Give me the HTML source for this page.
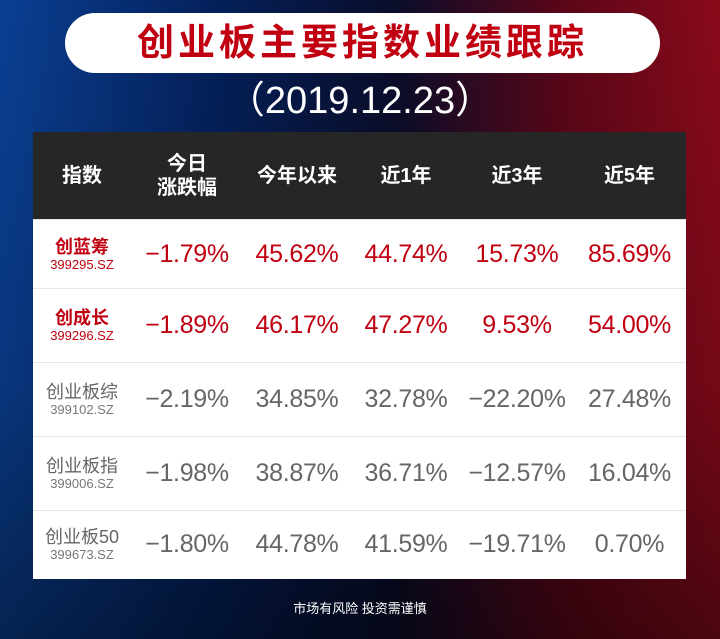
<!DOCTYPE html>
<html><head><meta charset="utf-8"><style>
body{margin:0;width:720px;height:639px;overflow:hidden;font-family:"Liberation Sans","Noto Sans CJK SC",sans-serif;}
#bg{position:absolute;left:0;top:0;width:720px;height:639px;background:linear-gradient(90deg,#0a3f93 0%,#04205a 30%,#0a0d2a 55%,#5a0618 78%,#8a0a1a 100%);}
#shade{position:absolute;left:0;top:0;width:720px;height:639px;background:linear-gradient(180deg,rgba(0,0,0,0) 0%,rgba(0,0,0,0.15) 60%,rgba(0,0,0,0.45) 100%);}
#pill{position:absolute;left:65px;top:13px;width:595px;height:60px;background:#fff;border-radius:30px;text-align:center;line-height:60px;color:#c00010;font-size:37px;font-weight:bold;letter-spacing:4px;}
#date{position:absolute;left:0;width:720px;top:78px;text-align:center;color:#fff;font-size:38px;line-height:46px;}
#tbl{position:absolute;left:33px;top:132px;width:653px;border-collapse:collapse;}
th{background:#262626;color:#fff;font-size:20px;font-weight:bold;height:87px;padding:0;line-height:24px;}
td{background:#fff;text-align:center;padding:0;font-size:25px;color:#666;border-top:1px solid #e6e6e6;letter-spacing:-0.3px;}
td.n{font-size:18px;line-height:20px;letter-spacing:0;}
td.n small{display:block;font-size:13px;line-height:15px;color:#777;}
tr.hot td{color:#c00010;}
tr.hot td.n{font-weight:bold;}
tr.hot td.n small{color:#c00010;font-weight:normal;}
#foot{position:absolute;left:0;width:720px;top:598px;text-align:center;color:#fff;font-size:13px;}
</style></head><body>
<div id="bg"></div>
<div id="shade"></div>
<div id="pill">创业板主要指数业绩跟踪</div>
<div id="date">（2019.12.23）</div>
<table id="tbl">
<colgroup><col style="width:98px"><col style="width:112px"><col style="width:108px"><col style="width:110px"><col style="width:112px"><col style="width:113px"></colgroup>
<tr><th>指数</th><th>今日<br>涨跌幅</th><th>今年以来</th><th>近1年</th><th>近3年</th><th>近5年</th></tr>
<tr class="hot" style="height:69px"><td class="n">创蓝筹<small>399295.SZ</small></td><td>−1.79%</td><td>45.62%</td><td>44.74%</td><td>15.73%</td><td>85.69%</td></tr>
<tr class="hot" style="height:74px"><td class="n">创成长<small>399296.SZ</small></td><td>−1.89%</td><td>46.17%</td><td>47.27%</td><td>9.53%</td><td>54.00%</td></tr>
<tr style="height:74px"><td class="n">创业板综<small>399102.SZ</small></td><td>−2.19%</td><td>34.85%</td><td>32.78%</td><td>−22.20%</td><td>27.48%</td></tr>
<tr style="height:74px"><td class="n">创业板指<small>399006.SZ</small></td><td>−1.98%</td><td>38.87%</td><td>36.71%</td><td>−12.57%</td><td>16.04%</td></tr>
<tr style="height:68px"><td class="n">创业板50<small>399673.SZ</small></td><td>−1.80%</td><td>44.78%</td><td>41.59%</td><td>−19.71%</td><td>0.70%</td></tr>
</table>
<div id="foot">市场有风险 投资需谨慎</div>
</body></html>
